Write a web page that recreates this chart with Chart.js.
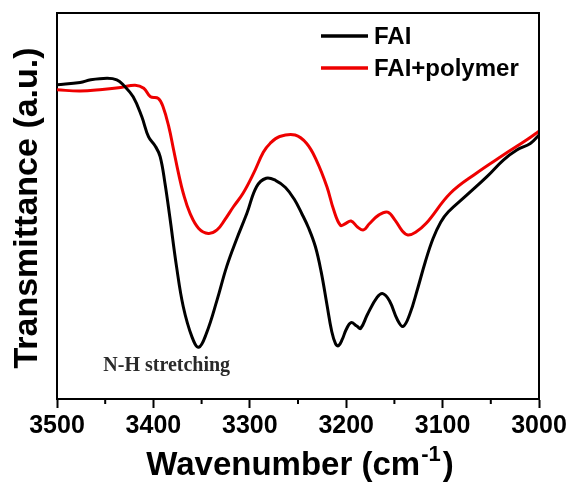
<!DOCTYPE html>
<html>
<head>
<meta charset="utf-8">
<script src="https://cdn.jsdelivr.net/npm/chart.js@4"></script>
<style>
  html, body { margin: 0; padding: 0; background: #fff; }
  canvas { display: block; }
</style>
</head>
<body>
<canvas id="c" width="573" height="487"></canvas>
<script>
// ---- data ----
const seriesNames = ["FAI", "FAI+polymer"];
const xTickValues = [3500, 3400, 3300, 3200, 3100, 3000];
const xMinorTicks = [3450, 3350, 3250, 3150, 3050];

const faiWavenumber = [3500,3476,3465,3448,3438,3431,3421,3412,3405,3398,3393,3388,3383,3376,3369,3360,3353,3345,3334,3324,3314,3303,3293,3283,3273,3263,3254,3246,3239,3232,3226,3220,3215,3211,3208,3204,3200,3195,3189,3185,3178,3168,3162,3155,3147,3141,3134,3126,3118,3110,3102,3094,3075,3054,3037,3023,3009,3000];
const faiValues = [81.4,82.0,82.7,83.1,82.7,81.3,78.3,73.1,67.9,65.5,62.8,55.9,47.2,34.3,23.9,16.1,13.4,17.0,25.6,34.3,41.2,48.1,55.0,57.2,56.6,54.8,51.8,48.0,44.3,39.5,33.0,24.5,17.5,14.3,13.8,15.5,18.0,19.8,18.9,18.3,21.9,26.3,27.3,25.4,20.6,18.8,22.0,28.5,35.5,41.5,45.8,48.5,52.8,57.6,61.9,64.5,66.2,68.4];

const polyWavenumber = [3500,3476,3453,3434,3419,3410,3403,3395,3390,3384,3379,3374,3369,3362,3353,3343,3334,3326,3317,3307,3296,3286,3279,3269,3253,3241,3231,3220,3213,3206,3201,3195,3188,3182,3176,3166,3157,3149,3142,3136,3128,3117,3092,3065,3037,3013,3000];
const polyValues = [80.1,79.8,80.2,80.7,81.3,80.5,78.3,77.9,75.7,70.5,64.5,58.5,53.3,48.1,44.2,42.9,43.8,46.4,49.8,53.3,58.5,63.9,66.2,68.0,68.4,66.2,61.9,55.0,49.0,45.0,45.4,46.1,44.5,43.8,45.4,47.7,48.4,46.2,43.6,42.5,43.2,45.5,53.3,58.5,63.2,67.1,69.4];

const annotationText = "N-H stretching";
const annotationAt = { x: 3452, y: 7.3 };

// ---- build ----
const toPoints = (xs, ys) => xs.map((x, i) => ({ x: x, y: ys[i] }));
const SANS = "'Liberation Sans', Arial, sans-serif";

const decorPlugin = {
  id: 'decor',
  afterDraw(chart) {
    const ctx = chart.ctx;
    const a = chart.chartArea;
    const xs = chart.scales.x, ys = chart.scales.y;
    ctx.save();
    // top and right frame
    ctx.strokeStyle = '#000';
    ctx.lineWidth = 2;
    ctx.beginPath();
    ctx.moveTo(a.left, a.top);
    ctx.lineTo(a.right, a.top);
    ctx.lineTo(a.right, a.bottom);
    ctx.stroke();
    // minor ticks
    ctx.beginPath();
    xMinorTicks.forEach(v => {
      const px = xs.getPixelForValue(v);
      ctx.moveTo(px, a.bottom);
      ctx.lineTo(px, a.bottom + 5);
    });
    ctx.stroke();

    // legend
    const ds = chart.data.datasets;
    const legendRows = [36, 68];
    ds.forEach((d, i) => {
      const y = a.top + legendRows[i] - 13;
      ctx.strokeStyle = d.borderColor;
      ctx.lineWidth = 3.5;
      ctx.beginPath();
      ctx.moveTo(321, y);
      ctx.lineTo(368, y);
      ctx.stroke();
      ctx.fillStyle = '#000';
      ctx.font = "bold 24px " + SANS;
      ctx.textAlign = 'left';
      ctx.textBaseline = 'middle';
      ctx.fillText(d.label, 374, y + 1);
    });

    // annotation
    ctx.fillStyle = '#2a2a2a';
    ctx.font = "bold 20px 'Liberation Serif', 'Times New Roman', serif";
    ctx.textAlign = 'left';
    ctx.textBaseline = 'alphabetic';
    ctx.fillText(annotationText, xs.getPixelForValue(annotationAt.x), ys.getPixelForValue(annotationAt.y));

    // y title
    ctx.fillStyle = '#000';
    ctx.save();
    ctx.translate(37, (a.top + a.bottom) / 2 + 2);
    ctx.rotate(-Math.PI / 2);
    ctx.font = "bold 34px " + SANS;
    ctx.textAlign = 'center';
    ctx.textBaseline = 'alphabetic';
    ctx.fillText("Transmittance (a.u.)", 0, 0);
    ctx.restore();

    // x title with superscript
    const main = "Wavenumber (cm";
    const sup = "-1";
    const close = ")";
    ctx.textAlign = 'left';
    ctx.textBaseline = 'alphabetic';
    ctx.font = "bold 33px " + SANS;
    const wMain = ctx.measureText(main).width;
    const wClose = ctx.measureText(close).width;
    ctx.font = "bold 22px " + SANS;
    const wSup = ctx.measureText(sup).width;
    const total = wMain + wSup + wClose + 3;
    let x0 = (a.left + a.right) / 2 - total / 2 + 2;
    const base = 475;
    ctx.font = "bold 33px " + SANS;
    ctx.fillText(main, x0, base);
    ctx.font = "bold 22px " + SANS;
    ctx.fillText(sup, x0 + wMain + 1, base - 14);
    ctx.font = "bold 33px " + SANS;
    ctx.fillText(close, x0 + wMain + wSup + 3, base);
    ctx.restore();
  }
};

new Chart(document.getElementById('c'), {
  type: 'line',
  data: {
    datasets: [
      { label: seriesNames[0], data: toPoints(faiWavenumber, faiValues), borderColor: '#000000', borderWidth: 3, pointRadius: 0, tension: 0.4, fill: false },
      { label: seriesNames[1], data: toPoints(polyWavenumber, polyValues), borderColor: '#ee0000', borderWidth: 3, pointRadius: 0, tension: 0.4, fill: false }
    ]
  },
  options: {
    responsive: false,
    animation: false,
    devicePixelRatio: 1,
    layout: { padding: { left: 0, right: 34, top: 13, bottom: 0 } },
    plugins: { legend: { display: false }, tooltip: { enabled: false } },
    scales: {
      x: {
        type: 'linear',
        reverse: true,
        min: 3000,
        max: 3500,
        afterBuildTicks(scale) { scale.ticks = xTickValues.map(v => ({ value: v })); },
        afterFit(scale) { scale.height = 88; },
        ticks: { color: '#000', font: { family: SANS, size: 25, weight: 'bold' }, padding: 3, maxRotation: 0, autoSkip: false, callback: (v) => String(v) },
        grid: { display: true, drawOnChartArea: false, drawTicks: true, tickLength: 9, tickColor: '#000', tickWidth: 2 },
        border: { display: true, color: '#000', width: 2 }
      },
      y: {
        type: 'linear',
        min: 0,
        max: 100,
        afterFit(scale) { scale.width = 57; },
        ticks: { display: false },
        grid: { display: true, drawOnChartArea: false, drawTicks: false },
        border: { display: true, color: '#000', width: 2 }
      }
    }
  },
  plugins: [decorPlugin]
});
</script>
</body>
</html>
